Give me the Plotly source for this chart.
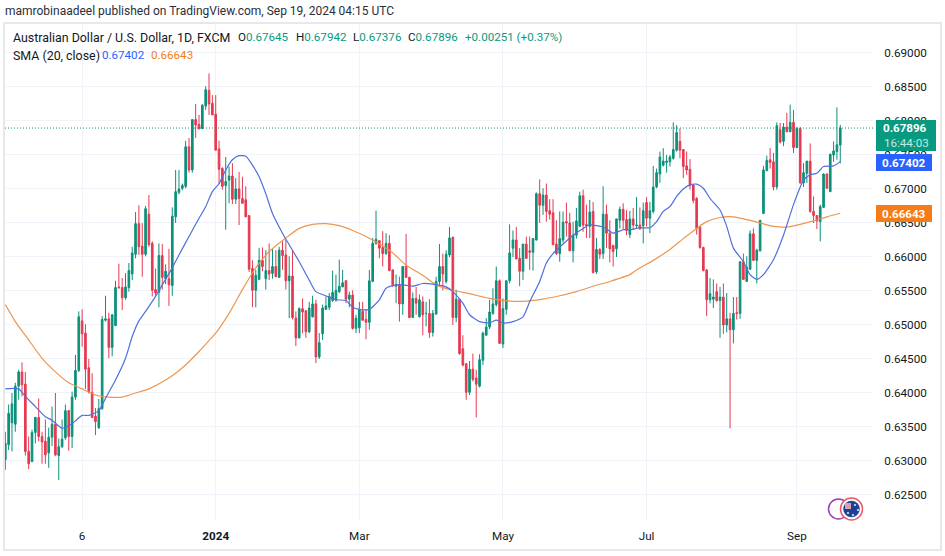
import plotly.graph_objects as go

opens = [
 .6302,.6324,.6356,.6354,.6410,.6431,.6413,.6314,.6299,.6342,
 .6364,.6336,.6329,.6312,.6335,.6354,.6308,.6321,.6334,.6374,
 .6336,.6394,.6433,.6506,.6488,.6437,.6401,.6366,.6349,.6377,
 .6507,.6509,.6467,.6499,.6556,.6555,.6540,.6555,.6575,.6604,
 .6649,.6616,.6604,.6663,.6620,.6552,.6548,.6602,.6568,.6568,
 .6558,.6659,.6695,.6701,.6704,.6762,.6728,.6802,.6795,.6789,
 .6822,.6845,.6826,.6810,.6759,.6730,.6705,.6713,.6719,.6685,
 .6700,.6686,.6684,.6661,.6583,.6551,.6567,.6595,.6568,.6580,
 .6576,.6586,.6570,.6610,.6603,.6565,.6572,.6510,.6481,.6524,
 .6521,.6490,.6512,.6531,.6453,.6487,.6523,.6526,.6536,.6537,
 .6549,.6556,.6565,.6538,.6544,.6495,.6496,.6520,.6508,.6504,
 .6564,.6620,.6624,.6614,.6605,.6620,.6581,.6557,.6559,.6531,
 .6586,.6570,.6511,.6539,.6512,.6534,.6517,.6517,.6489,.6516,
 .6564,.6586,.6564,.6603,.6629,.6511,.6538,.6465,.6443,.6401,
 .6435,.6422,.6410,.6448,.6485,.6497,.6517,.6530,.6565,.6472,
 .6523,.6565,.6613,.6625,.6598,.6579,.6619,.6609,.6607,.6625,
 .6693,.6676,.6691,.6668,.6665,.6619,.6605,.6625,.6652,.6650,
 .6609,.6632,.6645,.6690,.6648,.6645,.6667,.6578,.6611,.6605,
 .6663,.6635,.6617,.6612,.6654,.6670,.6655,.6633,.6656,.6646,
 .6647,.6646,.6680,.6657,.6667,.6703,.6722,.6735,.6739,.6740,
 .6745,.6757,.6770,.6758,.6734,.6729,.6706,.6686,.6644,.6614,
 .6581,.6537,.6538,.6549,.6536,.6541,.6500,.6509,.6493,.6518,
 .6517,.6593,.6564,.6582,.6634,.6595,.6609,.6664,.6727,.6743,
 .6740,.6703,.6787,.6770,.6791,.6784,.6798,.6761,.6789,.6709,
 .6723,.6741,.6667,.6661,.6652,.6673,.6722,.6696,.6750,.6755,
 .67645]
highs = [
 .6343,.6383,.6400,.6415,.6434,.6445,.6431,.6336,.6346,.6365,
 .6392,.6343,.6361,.6349,.6380,.6400,.6333,.6361,.6383,.6375,
 .6402,.6456,.6520,.6523,.6501,.6450,.6429,.6378,.6391,.6513,
 .6543,.6518,.6516,.6565,.6590,.6569,.6576,.6591,.6615,.6666,
 .6676,.6650,.6675,.6691,.6623,.6583,.6620,.6619,.6589,.6612,
 .6673,.6728,.6728,.6708,.6771,.6775,.6802,.6825,.6809,.6825,
 .6851,.6870,.6838,.6838,.6771,.6732,.6747,.6733,.6738,.6716,
 .6725,.6718,.6704,.6661,.6595,.6581,.6613,.6614,.6610,.6620,
 .6613,.6610,.6615,.6623,.6625,.6601,.6610,.6520,.6526,.6539,
 .6521,.6534,.6543,.6537,.6488,.6530,.6542,.6547,.6580,.6574,
 .6596,.6581,.6566,.6549,.6551,.6515,.6534,.6534,.6523,.6581,
 .6628,.6668,.6625,.6638,.6635,.6632,.6582,.6574,.6571,.6586,
 .6634,.6571,.6548,.6556,.6545,.6542,.6534,.6538,.6522,.6571,
 .6619,.6605,.6610,.6644,.6630,.6552,.6539,.6485,.6444,.6447,
 .6458,.6434,.6457,.6490,.6510,.6537,.6554,.6586,.6567,.6539,
 .6565,.6648,.6639,.6644,.6613,.6619,.6630,.6630,.6628,.6695,
 .6714,.6701,.6708,.6685,.6685,.6654,.6667,.6667,.6680,.6665,
 .6652,.6672,.6696,.6699,.6677,.6684,.6681,.6628,.6613,.6704,
 .6677,.6654,.6618,.6656,.6674,.6679,.6669,.6668,.6672,.6688,
 .6673,.6680,.6688,.6681,.6734,.6730,.6755,.6760,.6750,.6750,
 .6798,.6794,.6789,.6758,.6755,.6744,.6707,.6688,.6645,.6615,
 .6582,.6569,.6567,.6561,.6556,.6561,.6547,.6518,.6541,.6541,
 .6593,.6605,.6601,.6639,.6642,.6612,.6654,.6734,.6749,.6760,
 .6753,.6798,.6797,.6797,.6812,.6824,.6816,.6791,.6791,.6738,
 .6741,.6767,.6689,.6661,.6677,.6723,.6723,.6752,.6770,.6820,
 .67942]
lows = [
 .6287,.6316,.6314,.6343,.6390,.6395,.6308,.6288,.6299,.6326,
 .6329,.6296,.6296,.6290,.6322,.6307,.6272,.6319,.6331,.6315,
 .6319,.6390,.6431,.6468,.6406,.6399,.6363,.6338,.6347,.6375,
 .6505,.6451,.6454,.6499,.6553,.6522,.6537,.6549,.6566,.6598,
 .6603,.6571,.6601,.6615,.6542,.6543,.6526,.6552,.6560,.6528,
 .6543,.6650,.6692,.6698,.6701,.6724,.6724,.6775,.6787,.6788,
 .6816,.6809,.6809,.6757,.6707,.6699,.6640,.6679,.6678,.6678,
 .6647,.6679,.6659,.6578,.6526,.6526,.6567,.6579,.6552,.6566,
 .6568,.6571,.6569,.6581,.6552,.6510,.6508,.6469,.6480,.6488,
 .6481,.6488,.6511,.6444,.6450,.6478,.6522,.6522,.6534,.6534,
 .6547,.6556,.6532,.6526,.6493,.6488,.6488,.6506,.6479,.6493,
 .6563,.6618,.6598,.6586,.6603,.6579,.6556,.6532,.6505,.6515,
 .6569,.6510,.6511,.6515,.6511,.6485,.6498,.6481,.6483,.6515,
 .6559,.6551,.6561,.6600,.6500,.6504,.6456,.6439,.6390,.6397,
 .6417,.6364,.6408,.6441,.6484,.6494,.6515,.6527,.6472,.6466,
 .6515,.6561,.6600,.6597,.6557,.6566,.6597,.6581,.6580,.6624,
 .6650,.6662,.6652,.6655,.6618,.6603,.6593,.6621,.6630,.6609,
 .6592,.6627,.6644,.6637,.6628,.6628,.6576,.6575,.6597,.6597,
 .6613,.6592,.6586,.6600,.6642,.6640,.6632,.6628,.6640,.6642,
 .6641,.6620,.6645,.6635,.6664,.6701,.6709,.6733,.6724,.6733,
 .6743,.6755,.6745,.6716,.6721,.6699,.6679,.6633,.6612,.6579,
 .6513,.6532,.6525,.6534,.6481,.6487,.6489,.6348,.6473,.6508,
 .6509,.6567,.6564,.6581,.6594,.6561,.6608,.6663,.6726,.6730,
 .6698,.6699,.6767,.6763,.6784,.6784,.6753,.6760,.6708,.6703,
 .6709,.6665,.6650,.6641,.6623,.6672,.6700,.6696,.6740,.6743,
 .67376]
closes = [
 .6326,.6370,.6384,.6410,.6431,.6412,.6314,.6296,.6342,.6364,
 .6336,.6328,.6309,.6335,.6354,.6309,.6321,.6332,.6374,.6336,
 .6394,.6433,.6512,.6487,.6435,.6402,.6364,.6358,.6377,.6508,
 .6509,.6467,.6515,.6555,.6555,.6540,.6556,.6580,.6606,.6649,
 .6615,.6604,.6671,.6618,.6551,.6547,.6602,.6570,.6579,.6559,
 .6660,.6696,.6700,.6705,.6762,.6728,.6802,.6794,.6789,.6823,
 .6846,.6825,.6809,.6757,.6729,.6704,.6711,.6719,.6685,.6700,
 .6686,.6679,.6659,.6582,.6551,.6573,.6595,.6586,.6580,.6575,
 .6586,.6571,.6610,.6602,.6565,.6572,.6511,.6481,.6524,.6519,
 .6490,.6525,.6531,.6453,.6474,.6525,.6528,.6542,.6548,.6551,
 .6557,.6562,.6538,.6544,.6495,.6510,.6522,.6507,.6504,.6565,
 .6620,.6626,.6613,.6605,.6620,.6580,.6559,.6559,.6531,.6586,
 .6570,.6511,.6539,.6532,.6537,.6515,.6517,.6489,.6517,.6564,
 .6586,.6575,.6604,.6628,.6511,.6538,.6458,.6441,.6401,.6435,
 .6420,.6413,.6449,.6488,.6497,.6519,.6531,.6565,.6473,.6524,
 .6565,.6606,.6625,.6597,.6579,.6619,.6598,.6607,.6627,.6693,
 .6676,.6691,.6667,.6663,.6618,.6605,.6627,.6651,.6650,.6609,
 .6632,.6653,.6690,.6647,.6646,.6666,.6577,.6611,.6604,.6663,
 .6635,.6612,.6608,.6656,.6670,.6654,.6639,.6656,.6647,.6647,
 .6641,.6668,.6657,.6668,.6703,.6724,.6747,.6741,.6741,.6747,
 .6758,.6783,.6757,.6733,.6728,.6705,.6683,.6642,.6614,.6580,
 .6537,.6546,.6541,.6536,.6541,.6500,.6509,.6493,.6517,.6517,
 .6593,.6567,.6585,.6634,.6595,.6610,.6654,.6728,.6742,.6739,
 .6703,.6793,.6769,.6791,.6784,.6798,.6761,.6789,.6709,.6724,
 .6741,.6667,.6661,.6653,.6674,.6722,.6701,.6751,.6756,.6765,
 .67896]
assert len(opens) == len(highs) == len(lows) == len(closes) == 251
bar_index = list(range(251))

fast_idx = [0,4,6,9,12,14,17,20,23,25,28,30,33,36,38,40,42,45,47,50,52,55,58,60,62,64,66,68,70,72,74,76,78,80,83,85,88,91,93,97,99,102,104,106,109,112,114,117,119,122,125,128,132,134,137,139,142,145,147,149,152,155,157,160,162,164,167,170,173,175,179,182,185,187,190,193,195,197,199,201,203,205,207,209,211,214,216,218,221,223,225,227,230,233,236,239,241,243,245,248,250]
fast_sma = [.6406,.6406,.6395,.6380,.6365,.6360,.6348,.6355,.6367,.6367,.6374,.6392,.6419,.6451,.6483,.6506,.6520,.6542,.6559,.6584,.6603,.6630,.6657,.6674,.6696,.6708,.6728,.6743,.6749,.6748,.6735,.6718,.6693,.6664,.6635,.6618,.6593,.6566,.6549,.6541,.6537,.6536,.6526,.6523,.6523,.6537,.6554,.6559,.6559,.6557,.6561,.6560,.6556,.6549,.6532,.6515,.6505,.6503,.6507,.6503,.6505,.6512,.6534,.6564,.6591,.6605,.6619,.6632,.6642,.6647,.6644,.6635,.6640,.6640,.6643,.6643,.6652,.6667,.6674,.6689,.6700,.6706,.6707,.6701,.6686,.6669,.6645,.6613,.6593,.6574,.6567,.6574,.6596,.6632,.6677,.6713,.6721,.6723,.6733,.6734,.67402]
slow_idx = [0,3,7,11,15,19,23,27,31,35,39,43,47,51,55,58,61,63,67,71,75,79,84,88,92,96,100,104,108,112,116,120,125,129,134,139,145,151,156,161,166,171,176,181,187,189,194,199,203,207,210,214,218,222,226,230,234,238,242,246,250]
slow_sma = [.6530,.6505,.6478,.6451,.6431,.6415,.6406,.6397,.6394,.6394,.6400,.6406,.6416,.6429,.6446,.6461,.6477,.6488,.6517,.6552,.6584,.6608,.6628,.6642,.6648,.6649,.6646,.6639,.6630,.6619,.6606,.6588,.6573,.6559,.6551,.6546,.6539,.6535,.6535,.6538,.6543,.6549,.6557,.6564,.6574,.6581,.6595,.6611,.6627,.6642,.6652,.6658,.6659,.6655,.6650,.6645,.6644,.6648,.6653,.6659,.66643]

price_ticks = [.625,.63,.635,.64,.645,.65,.655,.66,.665,.67,.675,.68,.685,.69]
time_tickvals = [23,63,106,149,192,237]
time_ticktext = ["6","<b>2024</b>","Mar","May","Jul","Sep"]

FONT = "Roboto"
INK = "#131722"
GREEN, RED = "#0c9079", "#e63950"
GRID = "#f0f3fa"

# canvas helpers: page pixel -> paper fraction
L, R, T, B = 5, 873, 24, 520
def xp(px): return (px - L) / (R - L)
def yp(py): return 1 - (py - T) / (B - T)

fig = go.Figure()
fig.add_trace(go.Candlestick(
    x=bar_index, open=opens, high=highs, low=lows, close=closes,
    increasing=dict(line=dict(color=GREEN, width=1), fillcolor=GREEN),
    decreasing=dict(line=dict(color=RED, width=1), fillcolor=RED),
    whiskerwidth=0, hoverinfo="skip"))
fig.add_trace(go.Scatter(x=slow_idx, y=slow_sma, mode="lines", line=dict(color="#ee9650", width=1.2, shape="spline", smoothing=0.6), hoverinfo="skip"))
fig.add_trace(go.Scatter(x=fast_idx, y=fast_sma, mode="lines", line=dict(color="#4f70dc", width=1.2, shape="spline", smoothing=0.6), hoverinfo="skip"))

shapes = [
    dict(type="line", xref="paper", yref="y", x0=0, x1=1, y0=closes[-1], y1=closes[-1],
         line=dict(color="#0c9079", width=1, dash="1px,2px"), layer="above"),
    dict(type="rect", xref="paper", yref="paper", x0=xp(4), x1=xp(941), y0=yp(23), y1=yp(550),
         line=dict(color="#e8e8e8", width=2), layer="below"),
]
def box(x0, x1, y0, y1, c):
    shapes.append(dict(type="rect", xref="paper", yref="paper", x0=xp(x0), x1=xp(x1), y0=yp(y0), y1=yp(y1),
                       fillcolor=c, line=dict(width=0), layer="above"))
box(876, 936, 120, 151, "#089981")
box(876, 932, 154, 171, "#2962ff")
box(876, 932, 205, 222, "#f57c17")
def circ(cx, cy, r, fill, line, w=1.5):
    shapes.append(dict(type="circle", xref="paper", yref="paper", x0=xp(cx-r), x1=xp(cx+r), y0=yp(cy-r), y1=yp(cy+r),
                       fillcolor=fill, line=dict(color=line, width=w), layer="above"))
circ(838.5, 509, 10, "#ffffff", "#9c3fb8")
circ(851.5, 509, 11, "#ffffff", "#f0566a")
circ(851.5, 509, 8, "#1b3f94", "#1b3f94", 0.5)
box(845, 851, 503, 509, "#d9a0ae")
for (sx, sy) in [(848, 513), (855, 505), (858, 510), (853, 515)]:
    circ(sx, sy, 0.8, "#ffffff", "#ffffff", 0.5)

def note(px, py, text, size=12, color=INK, anchor="left"):
    return dict(xref="paper", yref="paper", x=xp(px), y=yp(py), text=text, showarrow=False,
                xanchor=anchor, yanchor="middle", font=dict(family=FONT, size=size, color=color),
                borderpad=0, borderwidth=0, align="left")

def c(t, col="#089981"): return f'<span style="color:{col}">{t}</span>'
annotations = [
    note(5, 11, "mamrobinaadeel published on TradingView.com, Sep 19, 2024 04:15 UTC", 12, "#2a2e39"),
    note(13, 37, "Australian Dollar / U.S. Dollar, 1D, FXCM", 12.4),
    note(238, 37, "O" + c("0.67645"), 11.6),
    note(296, 37, "H" + c("0.67942"), 11.6),
    note(353, 37, "L" + c("0.67376"), 11.6),
    note(408, 37, "C" + c("0.67896"), 11.6),
    note(465, 37, c("+0.00251 (+0.37%)"), 11.6),
    note(13, 55, "SMA (20, close)", 12.4),
    note(102, 55, c("0.67402", "#2962ff"), 11.6),
    note(151, 55, c("0.66643", "#f57c17"), 11.6),
    note(905, 128, "<b>0.67896</b>", 11.6, "#ffffff", "center"),
    note(906, 143, "16:44:03", 11.6, "#c5ebe2", "center"),
    note(904, 162.5, "<b>0.67402</b>", 11.6, "#ffffff", "center"),
    note(904, 213.5, "<b>0.66643</b>", 11.6, "#ffffff", "center"),
]

fig.update_layout(
    width=945, height=556, autosize=False,
    margin=dict(l=L, r=945 - R, t=T, b=556 - B),
    paper_bgcolor="#ffffff", plot_bgcolor="#ffffff",
    showlegend=False, boxgap=0.3, shapes=shapes, annotations=annotations,
    font=dict(family=FONT, size=11.7, color=INK),
    xaxis=dict(range=[-0.09, 259.8], rangeslider=dict(visible=False), tickmode="array",
               tickvals=time_tickvals, ticktext=time_ticktext, showgrid=True, gridcolor=GRID, gridwidth=1,
               zeroline=False, showline=False, ticks="outside", ticklen=5, tickcolor="rgba(0,0,0,0)"),
    yaxis=dict(range=[0.62132, 0.69426], side="right", tickmode="array", tickvals=price_ticks,
               tickformat=".5f", showgrid=True, gridcolor=GRID, gridwidth=1,
               zeroline=False, showline=False, ticks="outside", ticklen=8, tickcolor="rgba(0,0,0,0)"),
)
fig.write_html("out.html", config={"displayModeBar": False},
               post_script="document.body.style.margin='0';document.body.style.overflow='hidden';")
